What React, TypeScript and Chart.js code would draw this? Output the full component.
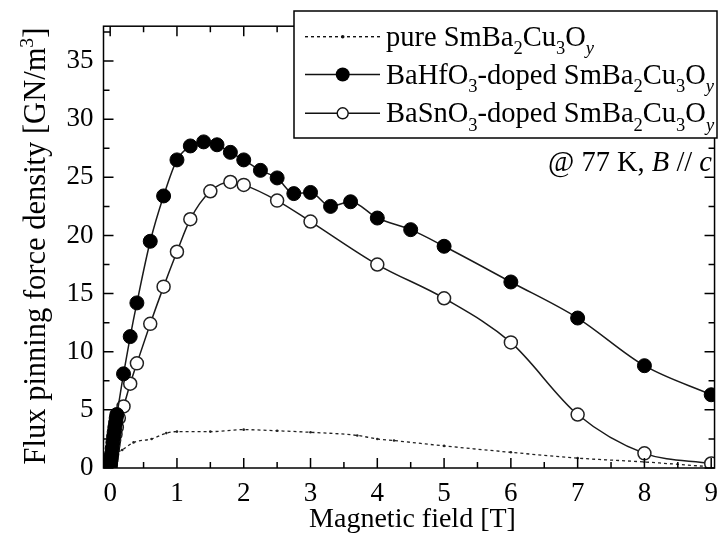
import React, { useEffect, useRef } from "react";
import { Chart, registerables } from "chart.js";

Chart.register(...registerables);

// ---- data ----
const hfX = [0, 0.005, 0.01, 0.015, 0.02, 0.03, 0.04, 0.05, 0.06, 0.07, 0.08, 0.09, 0.1, 0.2, 0.3, 0.4, 0.6, 0.8, 1.0, 1.2, 1.4, 1.6, 1.8, 2.0, 2.25, 2.5, 2.75, 3.0, 3.3, 3.6, 4.0, 4.5, 5, 6, 7, 8, 9];
const hfY = [0, 0.3, 0.6, 0.9, 1.2, 1.7, 2.2, 2.7, 3.1, 3.5, 3.9, 4.3, 4.6, 8.1, 11.3, 14.2, 19.5, 23.4, 26.5, 27.7, 28.05, 27.8, 27.15, 26.5, 25.6, 24.95, 23.6, 23.7, 22.5, 22.9, 21.5, 20.5, 19.07, 16.0, 12.9, 8.8, 6.3];

const snX = [0, 0.01, 0.02, 0.03, 0.04, 0.05, 0.06, 0.08, 0.1, 0.13, 0.2, 0.3, 0.4, 0.6, 0.8, 1.0, 1.2, 1.5, 1.8, 2.0, 2.5, 3.0, 4.0, 5, 6, 7, 8, 9];
const snY = [0, 0.4, 0.8, 1.2, 1.6, 2.0, 2.4, 2.9, 3.5, 4.3, 5.3, 7.25, 9.0, 12.4, 15.6, 18.6, 21.4, 23.8, 24.6, 24.35, 23.0, 21.2, 17.5, 14.6, 10.8, 4.6, 1.26, 0.39];

const pureX = [0, 0.05, 0.1, 0.18, 0.35, 0.62, 0.84, 1.0, 1.5, 2.0, 2.5, 3.0, 3.7, 4.0, 4.25, 5, 6, 7, 8, 9];
const pureY = [0, 0.8, 1.3, 1.55, 2.2, 2.5, 3.0, 3.13, 3.13, 3.3, 3.2, 3.07, 2.8, 2.5, 2.36, 1.9, 1.35, 0.85, 0.52, 0.1];

const xMin = -0.1;
const xMax = 9.05;
const yMin = 0;
const yMax = 38;
const xMajor = [0, 1, 2, 3, 4, 5, 6, 7, 8, 9];
const xMinor = [0.5, 1.5, 2.5, 3.5, 4.5, 5.5, 6.5, 7.5, 8.5];
const yMajor = [0, 5, 10, 15, 20, 25, 30, 35];
const yMinor = [2.5, 7.5, 12.5, 17.5, 22.5, 27.5, 32.5, 37.5];

const xTitle = "Magnetic field [T]";
const FONT = '"Liberation Serif", "Times New Roman", serif';

type Part = { t: string; sub?: boolean; sup?: boolean; it?: boolean };

const smbco: Part[] = [
  { t: "SmBa" }, { t: "2", sub: true }, { t: "Cu" }, { t: "3", sub: true }, { t: "O" }, { t: "y", sub: true, it: true },
];
const legendRows: { parts: Part[]; kind: string }[] = [
  { parts: [{ t: "pure " }, ...smbco], kind: "pure" },
  { parts: [{ t: "BaHfO" }, { t: "3", sub: true }, { t: "-doped " }, ...smbco], kind: "hf" },
  { parts: [{ t: "BaSnO" }, { t: "3", sub: true }, { t: "-doped " }, ...smbco], kind: "sn" },
];
const noteParts: Part[] = [{ t: "@ 77 K, " }, { t: "B", it: true }, { t: " // " }, { t: "c", it: true }];
const yTitleParts: Part[] = [{ t: "Flux pinning force density [GN/m" }, { t: "3", sup: true }, { t: "]" }];

function setFont(ctx: CanvasRenderingContext2D, p: Part, size: number) {
  const s = p.sub || p.sup ? size * 0.65 : size;
  ctx.font = `${p.it ? "italic " : ""}${s}px ${FONT}`;
}
function richWidth(ctx: CanvasRenderingContext2D, parts: Part[], size: number) {
  let w = 0;
  for (const p of parts) {
    setFont(ctx, p, size);
    w += ctx.measureText(p.t).width;
  }
  return w;
}
function drawRich(ctx: CanvasRenderingContext2D, parts: Part[], x: number, y: number, size: number) {
  let cx = x;
  ctx.textBaseline = "alphabetic";
  ctx.textAlign = "left";
  for (const p of parts) {
    setFont(ctx, p, size);
    const dy = p.sub ? size * 0.3 : p.sup ? -size * 0.4 : 0;
    ctx.fillText(p.t, cx, y + dy);
    cx += ctx.measureText(p.t).width;
  }
}

const framePlugin = {
  id: "frame",
  afterDraw(chart: any) {
    const { ctx, chartArea: a, scales } = chart;
    const xs = scales.x;
    const ys = scales.y;
    ctx.save();
    ctx.strokeStyle = "#000";
    ctx.fillStyle = "#000";
    ctx.lineWidth = 1.5;
    ctx.strokeRect(a.left, a.top, a.right - a.left, a.bottom - a.top);
    ctx.beginPath();
    const tick = (vals: number[], len: number) => {
      for (const v of vals) {
        const px = xs.getPixelForValue(v);
        ctx.moveTo(px, a.bottom);
        ctx.lineTo(px, a.bottom - len);
        ctx.moveTo(px, a.top);
        ctx.lineTo(px, a.top + len);
      }
    };
    const tickY = (vals: number[], len: number) => {
      for (const v of vals) {
        const py = ys.getPixelForValue(v);
        ctx.moveTo(a.left, py);
        ctx.lineTo(a.left + len, py);
        ctx.moveTo(a.right, py);
        ctx.lineTo(a.right - len, py);
      }
    };
    tick(xMajor, 10);
    tick(xMinor, 6);
    tickY(yMajor, 10);
    tickY(yMinor, 6);
    ctx.stroke();

    // legend box
    const bx = 294, by = 11, bw = 423, bh = 127;
    ctx.fillStyle = "#fff";
    ctx.fillRect(bx, by, bw, bh);
    ctx.strokeStyle = "#000";
    ctx.lineWidth = 1.5;
    ctx.strokeRect(bx, by, bw, bh);
    const rowsY = [36.7, 74.5, 113.3];
    legendRows.forEach((r, i) => {
      const cy = rowsY[i];
      ctx.strokeStyle = "#111";
      ctx.lineWidth = 1.4;
      ctx.beginPath();
      if (r.kind === "pure") ctx.setLineDash([3, 3]);
      else ctx.setLineDash([]);
      ctx.moveTo(305, cy);
      ctx.lineTo(380, cy);
      ctx.stroke();
      ctx.setLineDash([]);
      ctx.beginPath();
      if (r.kind === "pure") {
        ctx.fillStyle = "#111";
        ctx.arc(342.7, cy, 1.8, 0, Math.PI * 2);
        ctx.fill();
      } else if (r.kind === "hf") {
        ctx.fillStyle = "#000";
        ctx.arc(342.7, cy, 7, 0, Math.PI * 2);
        ctx.fill();
      } else {
        ctx.fillStyle = "#fff";
        ctx.arc(342.7, cy, 5.5, 0, Math.PI * 2);
        ctx.fill();
        ctx.stroke();
      }
      ctx.fillStyle = "#000";
      drawRich(ctx, r.parts, 386, cy + 9, 28.5);
    });

    // annotation
    ctx.fillStyle = "#000";
    const nw = richWidth(ctx, noteParts, 28.5);
    drawRich(ctx, noteParts, 712 - nw, 171, 28.5);

    // x title
    ctx.font = `28px ${FONT}`;
    ctx.textAlign = "center";
    ctx.textBaseline = "alphabetic";
    ctx.fillText(xTitle, 412.5, 527);

    // y title
    ctx.save();
    ctx.translate(45, 246);
    ctx.rotate(-Math.PI / 2);
    const tw = richWidth(ctx, yTitleParts, 30.5);
    drawRich(ctx, yTitleParts, -tw / 2, 0, 30.5);
    ctx.restore();

    ctx.restore();
  },
};

export default function App() {
  const ref = useRef<HTMLCanvasElement | null>(null);
  useEffect(() => {
    if (!ref.current) return;
    const tickFont = { family: FONT, size: 27 };
    const chart = new Chart(ref.current, {
      type: "line",
      data: {
        datasets: [
          {
            label: "BaHfO3-doped",
            data: hfX.map((x, i) => ({ x, y: hfY[i] })),
            borderColor: "#1a1a1a",
            borderWidth: 1.5,
            pointRadius: 7,
            pointBackgroundColor: "#000",
            pointBorderColor: "#000",
            pointBorderWidth: 1,
            cubicInterpolationMode: "monotone",
            order: 0,
          },
          {
            label: "BaSnO3-doped",
            data: snX.map((x, i) => ({ x, y: snY[i] })),
            borderColor: "#1a1a1a",
            borderWidth: 1.5,
            pointRadius: 6.5,
            pointBackgroundColor: "#fff",
            pointBorderColor: "#222",
            pointBorderWidth: 1.5,
            cubicInterpolationMode: "monotone",
            order: 1,
          },
          {
            label: "pure",
            data: pureX.map((x, i) => ({ x, y: pureY[i] })),
            borderColor: "#222",
            borderWidth: 1.3,
            borderDash: [3, 3],
            pointRadius: 1.3,
            pointBackgroundColor: "#222",
            pointBorderWidth: 0,
            cubicInterpolationMode: "monotone",
            order: 2,
          },
        ],
      } as any,
      options: {
        animation: false,
        responsive: false,
        maintainAspectRatio: false,
        layout: { padding: { top: 8.7, right: 8, left: 0, bottom: 0 } },
        plugins: { legend: { display: false }, tooltip: { enabled: false } },
        scales: {
          x: {
            type: "linear",
            min: xMin,
            max: xMax,
            grid: { display: false, drawTicks: false },
            border: { display: false },
            ticks: {
              stepSize: 1,
              includeBounds: false,
              autoSkip: false,
              maxRotation: 0,
              padding: 10,
              color: "#000",
              font: tickFont,
              callback: (v: any) => String(v),
            },
            afterFit: (s: any) => {
              s.height = 70;
            },
          },
          y: {
            type: "linear",
            min: yMin,
            max: yMax,
            grid: { display: false, drawTicks: false },
            border: { display: false },
            ticks: {
              stepSize: 5,
              includeBounds: false,
              autoSkip: false,
              padding: 10,
              color: "#000",
              font: tickFont,
              callback: (v: any) => String(v),
            },
            afterFit: (s: any) => {
              s.width = 103.5;
            },
          },
        },
      } as any,
      plugins: [framePlugin],
    });
    return () => chart.destroy();
  }, []);
  return (
    <div style={{ position: "fixed", left: 0, top: 0, width: 728, height: 538, background: "#fff" }}>
      <canvas ref={ref} width={728} height={538} />
    </div>
  );
}
